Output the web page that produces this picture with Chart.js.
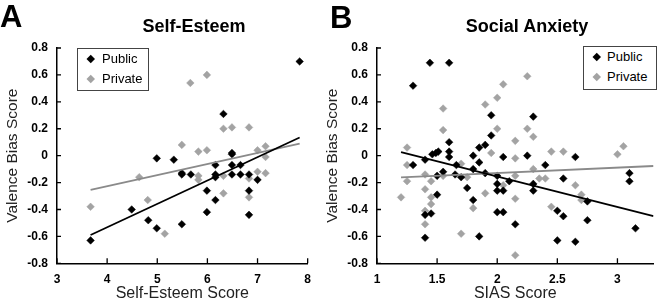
<!DOCTYPE html>
<html>
<head>
<meta charset="utf-8">
<script src="https://cdn.jsdelivr.net/npm/chart.js@4"></script>
<style>
  body { margin: 0; background: #fff; font-family: "Liberation Sans", Arial, sans-serif; }
  #wrap { position: relative; width: 658px; height: 304px; overflow: hidden; }
  .panel { position: absolute; top: 0; height: 304px; }
  .letter { position: absolute; font-weight: bold; font-size: 31px; line-height: 1; }
  .ttl { position: absolute; font-weight: bold; font-size: 18px; transform: translateX(-50%); white-space: nowrap; }
  .legend { position: absolute; border: 1px solid #444; background: #fff; font-size: 13px; }
  .legend div { position: relative; height: 20px; line-height: 20px; }
  .dia { position: absolute; width: 5.5px; height: 5.5px; transform: rotate(45deg); top: 7px; }
</style>
</head>
<body>
<div id="wrap">
  <div class="panel" style="left:0;width:320px"><canvas id="chartA"></canvas></div>
  <div class="panel" style="left:320px;width:338px"><canvas id="chartB"></canvas></div>
  <div class="letter" style="left:0;top:1px">A</div>
  <div class="letter" style="left:330px;top:2px">B</div>
  <div class="ttl" style="left:194px;top:16px">Self-Esteem</div>
  <div class="ttl" style="left:527px;top:16px">Social Anxiety</div>
  <div class="legend" style="left:77px;top:48px;width:70px;height:41px">
    <div><span class="dia" style="left:10px;background:#000"></span><span style="position:absolute;left:24px">Public</span></div>
    <div><span class="dia" style="left:10px;background:#a3a3a3"></span><span style="position:absolute;left:24px">Private</span></div>
  </div>
  <div class="legend" style="left:583px;top:46px;width:72px;height:42px">
    <div><span class="dia" style="left:10px;background:#000"></span><span style="position:absolute;left:23px">Public</span></div>
    <div><span class="dia" style="left:10px;background:#a3a3a3"></span><span style="position:absolute;left:23px">Private</span></div>
  </div>
</div>
<script>
// panel A: self-esteem score vs valence bias
const publicA = [[3.67,-0.63],[4.49,-0.40],[4.82,-0.48],[4.99,-0.54],[4.99,-0.02],[5.33,-0.03],[5.49,-0.13],[5.49,-0.14],[5.49,-0.51],[5.67,-0.14],[5.99,-0.26],[5.99,-0.42],[6.16,-0.07],[6.16,-0.14],[6.16,-0.16],[6.16,-0.33],[6.32,0.31],[6.49,0.02],[6.49,0.01],[6.49,-0.07],[6.49,-0.14],[6.66,-0.07],[6.66,-0.14],[6.83,-0.14],[6.83,-0.26],[6.83,-0.44],[7.0,-0.18],[7.84,0.70]];
const privateA = [[3.67,-0.38],[4.64,-0.16],[4.81,-0.33],[5.15,-0.58],[5.49,0.08],[5.66,0.54],[5.82,0.03],[5.82,-0.15],[5.82,-0.18],[5.99,0.60],[5.99,0.04],[6.32,0.20],[6.32,-0.15],[6.32,-0.28],[6.49,0.21],[6.83,0.21],[6.83,-0.17],[6.83,-0.31],[7.0,0.04],[7.0,-0.12],[7.16,0.07],[7.16,-0.01],[7.16,-0.13]];
const fitPublicA = [[3.67,-0.59],[7.84,0.135]];
const fitPrivateA = [[3.67,-0.255],[7.84,0.09]];

// panel B: SIAS score vs valence bias
const publicB = [[1.30,0.52],[1.44,0.69],[1.60,0.69],[1.30,-0.07],[1.40,-0.03],[1.40,-0.44],[1.40,-0.61],[1.45,-0.43],[1.46,0.01],[1.49,0.02],[1.51,0.03],[1.50,-0.29],[1.50,-0.15],[1.55,-0.12],[1.60,0.10],[1.60,0.03],[1.60,-0.01],[1.66,-0.07],[1.65,-0.14],[1.70,-0.16],[1.75,-0.24],[1.80,0.00],[1.80,-0.10],[1.80,-0.33],[1.85,0.06],[1.85,-0.05],[1.85,-0.60],[1.90,0.08],[1.90,-0.13],[1.95,0.30],[1.95,0.15],[2.00,-0.15],[2.00,-0.21],[2.00,-0.26],[2.00,-0.42],[2.05,-0.01],[2.05,-0.26],[2.05,-0.42],[2.10,-0.19],[2.15,-0.51],[2.25,0.00],[2.30,0.29],[2.30,-0.21],[2.30,-0.26],[2.40,-0.07],[2.50,-0.41],[2.50,-0.63],[2.55,-0.45],[2.55,-0.17],[2.65,-0.01],[2.65,-0.64],[2.75,-0.34],[2.75,-0.48],[3.10,-0.13],[3.10,-0.19],[3.15,-0.54]];
const privateB = [[1.20,-0.31],[1.25,0.06],[1.25,-0.07],[1.25,-0.19],[1.40,-0.14],[1.40,-0.25],[1.40,-0.41],[1.40,-0.51],[1.45,-0.31],[1.45,-0.36],[1.45,-0.19],[1.55,0.35],[1.55,0.19],[1.55,-0.15],[1.70,-0.06],[1.70,-0.58],[1.75,-0.16],[1.80,-0.39],[1.90,0.38],[1.95,0.02],[1.90,-0.28],[2.00,0.43],[2.00,0.20],[2.05,0.53],[2.05,-0.22],[2.15,0.11],[2.15,-0.02],[2.15,-0.15],[2.15,-0.32],[2.15,-0.74],[2.25,0.59],[2.25,0.20],[2.30,0.14],[2.30,-0.10],[2.35,-0.17],[2.40,-0.17],[2.45,0.03],[2.45,-0.38],[2.55,0.03],[2.65,-0.22],[2.70,-0.29],[2.70,-0.33],[3.00,0.01],[3.05,0.07]];
const fitPublicB = [[1.2,0.027],[3.3,-0.45]];
const fitPrivateB = [[1.2,-0.162],[3.3,-0.077]];

const yTicks = [-0.8, -0.6, -0.4, -0.2, 0, 0.2, 0.4, 0.6, 0.8];

const pts = arr => arr.map(p => ({ x: p[0], y: p[1] }));

// tick marks point inward, like the original
const innerTicks = {
  id: 'innerTicks',
  afterDraw(chart) {
    const { ctx, chartArea, scales } = chart;
    ctx.save();
    ctx.strokeStyle = '#000';
    ctx.lineWidth = 1.3;
    ctx.beginPath();
    scales.x.ticks.forEach(t => {
      const px = scales.x.getPixelForValue(t.value);
      ctx.moveTo(px, chartArea.bottom);
      ctx.lineTo(px, chartArea.bottom - 5);
    });
    scales.y.ticks.forEach(t => {
      const py = scales.y.getPixelForValue(t.value);
      ctx.moveTo(chartArea.left, py);
      ctx.lineTo(chartArea.left + 4, py);
    });
    ctx.stroke();
    ctx.restore();
  }
};

function makeChart(id, pub, priv, fitPub, fitPriv, xMin, xMax, xStep, xTitle, padRight) {
  return new Chart(document.getElementById(id), {
    type: 'scatter',
    data: {
      datasets: [
        { type: 'line', data: pts(fitPub), borderColor: '#000', borderWidth: 1.8, pointRadius: 0, fill: false },
        { type: 'line', data: pts(fitPriv), borderColor: '#8a8a8a', borderWidth: 1.8, pointRadius: 0, fill: false },
        { label: 'Public', data: pts(pub), pointStyle: 'rectRot', pointRadius: 3.8, backgroundColor: '#000', borderColor: '#000', borderWidth: 0.5 },
        { label: 'Private', data: pts(priv), pointStyle: 'rectRot', pointRadius: 3.8, backgroundColor: '#a3a3a3', borderColor: '#a3a3a3', borderWidth: 0.5 }
      ]
    },
    options: {
      responsive: true,
      maintainAspectRatio: false,
      animation: false,
      layout: { padding: { top: 48, right: padRight, bottom: 0, left: 0 } },
      plugins: { legend: { display: false }, tooltip: { enabled: false } },
      scales: {
        x: {
          type: 'linear',
          min: xMin, max: xMax,
          grid: { display: false, drawTicks: false },
          border: { color: '#000', width: 1.5 },
          ticks: {
            stepSize: xStep, includeBounds: false, padding: 9,
            color: '#000', font: { size: 12, weight: 'bold', family: 'Liberation Sans' },
            callback: v => String(+v.toFixed(1))
          },
          title: { display: true, text: xTitle, color: '#222', padding: { top: 0, bottom: 1 }, font: { size: 16, family: 'Liberation Sans' } },
          afterFit: s => { s.height = 40.7; }
        },
        y: {
          min: -0.8, max: 0.8,
          grid: { display: false, drawTicks: false },
          border: { color: '#000', width: 1.5 },
          afterBuildTicks: s => { s.ticks = yTicks.map(v => ({ value: v })); },
          ticks: {
            padding: 9,
            color: '#000', font: { size: 12, weight: 'bold', family: 'Liberation Sans' },
            callback: v => Math.abs(v) < 1e-9 ? '0' : v.toFixed(1)
          },
          title: { display: true, text: 'Valence Bias Score', color: '#222', padding: { top: 3, bottom: 0 }, font: { size: 15.5, family: 'Liberation Sans' } },
          afterFit: s => { s.width = 57; }
        }
      }
    },
    plugins: [innerTicks]
  });
}

makeChart('chartA', publicA, privateA, fitPublicA, fitPrivateA, 3, 8, 1, 'Self-Esteem Score', 5);
makeChart('chartB', publicB, privateB, fitPublicB, fitPrivateB, 1, 3.3, 0.5, 'SIAS Score', 1.3);
</script>
</body>
</html>
